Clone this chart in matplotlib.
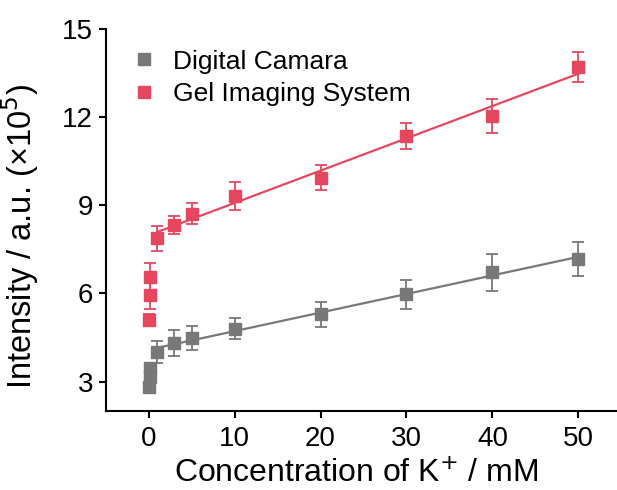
import numpy as np
import matplotlib
matplotlib.use("Agg")
import matplotlib.pyplot as plt
from matplotlib.lines import Line2D

plt.rcParams['font.family'] = ['Liberation Sans', 'DejaVu Sans']

# Data
dc_x = [0, 0.1, 0.2, 1, 3, 5, 10, 20, 30, 40, 50]
dc_y = [2.82, 3.15, 3.45, 4.00, 4.31, 4.48, 4.80, 5.29, 5.97, 6.72, 7.17]
dc_err = [0.15, 0.15, 0.15, 0.38, 0.44, 0.40, 0.36, 0.43, 0.50, 0.62, 0.58]

gel_x = [0, 0.1, 0.2, 1, 3, 5, 10, 20, 30, 40, 50]
gel_y = [5.11, 5.96, 6.55, 7.88, 8.33, 8.72, 9.32, 9.94, 11.37, 12.05, 13.72]
gel_err = [0.2, 0.5, 0.5, 0.43, 0.32, 0.35, 0.48, 0.43, 0.44, 0.58, 0.51]

labels = ['Digital Camara', 'Gel Imaging System']
fit_start = 1
xticks = [0, 10, 20, 30, 40, 50]
yticks = [3, 6, 9, 12, 15]

gray = '#787878'
red = '#E6475F'

fig = plt.figure(figsize=(6.17, 4.90), dpi=100)
ax = fig.add_axes([0.1713, 0.1612, 0.8287, 0.7796])

def plot_series(x, y, e, color):
    x = np.array(x); y = np.array(y)
    m = x >= fit_start
    k, b = np.polyfit(x[m], y[m], 1)
    xs = np.array([x[m].min(), x[m].max()])
    ax.plot(xs, k * xs + b, color=color, lw=1.6, zorder=2)
    ax.errorbar(x, y, yerr=e, fmt='s', color=color, ms=8.8, mec=color,
                ecolor=color, elinewidth=1.3, capsize=4, capthick=1.3,
                zorder=3)

plot_series(dc_x, dc_y, dc_err, gray)
plot_series(gel_x, gel_y, gel_err, red)

ax.set_xlim(-5, 54.5)
ax.set_ylim(2.0, 15)
ax.set_xticks(xticks)
ax.set_yticks(yticks)
for s in ['top', 'right']:
    ax.spines[s].set_visible(False)
for s in ['left', 'bottom']:
    ax.spines[s].set_linewidth(1.5)
ax.tick_params(direction='out', length=5, width=1.5, labelsize=20)
ax.tick_params(axis='x', pad=6)
ax.tick_params(axis='y', pad=4)

ax.set_xlabel('Concentration of K$^{+}$ / mM', fontsize=23)
ax.set_ylabel('Intensity / a.u. (×10$^{5}$)', fontsize=23.5)
ax.xaxis.set_label_coords(0.578, 0.064, transform=fig.transFigure)
ax.yaxis.set_label_coords(0.066, 0.517, transform=fig.transFigure)

handles = [Line2D([], [], ls='none', marker='s', ms=8.6, color=c, mec=c) for c in (gray, red)]
leg = fig.legend(handles, labels, loc='upper left', bbox_to_anchor=(0.2075, 0.8985),
                 frameon=False, fontsize=19, handletextpad=0.5, labelspacing=0.31,
                 handlelength=1.2, borderaxespad=0, borderpad=0)

fig.savefig('out.png', dpi=100)
